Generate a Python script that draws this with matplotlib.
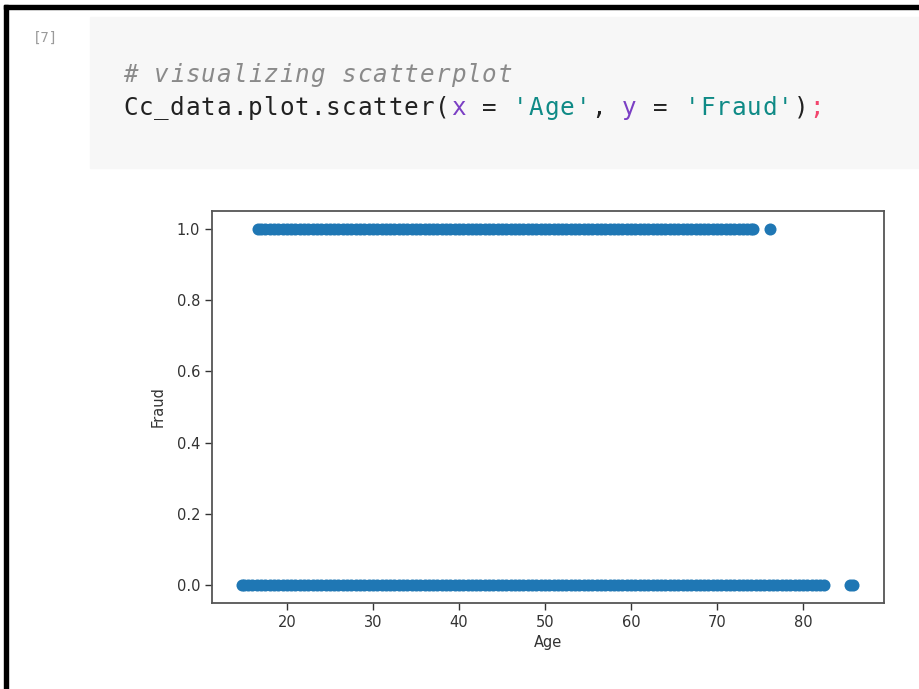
import matplotlib.pyplot as plt
from matplotlib.patches import Rectangle

# ages, one list per Fraud value
ages_fraud0 = [14.8, 15, 15.5, 16, 16.5, 17, 17.5, 18, 18.5, 19, 19.5, 20, 20.5,
               21, 21.5, 22, 22.5, 23, 23.5, 24, 24.5, 25, 25.5, 26, 26.5, 27,
               27.5, 28, 28.5, 29, 29.5, 30, 30.5, 31, 31.5, 32, 32.5, 33, 33.5,
               34, 34.5, 35, 35.5, 36, 36.5, 37, 37.5, 38, 38.5, 39, 39.5, 40,
               40.5, 41, 41.5, 42, 42.5, 43, 43.5, 44, 44.5, 45, 45.5, 46, 46.5,
               47, 47.5, 48, 48.5, 49, 49.5, 50, 50.5, 51, 51.5, 52, 52.5, 53,
               53.5, 54, 54.5, 55, 55.5, 56, 56.5, 57, 57.5, 58, 58.5, 59, 59.5,
               60, 60.5, 61, 61.5, 62, 62.5, 63, 63.5, 64, 64.5, 65, 65.5, 66,
               66.5, 67, 67.5, 68, 68.5, 69, 69.5, 70, 70.5, 71, 71.5, 72, 72.5,
               73, 73.5, 74, 74.5, 75, 75.5, 76, 76.5, 77, 77.5, 78, 78.5, 79,
               79.5, 80, 80.5, 81, 81.5, 82, 82.4, 85.5, 85.8]
ages_fraud1 = [16.7, 17, 17.5, 18, 18.5, 19, 19.5, 20, 20.5, 21, 21.5, 22, 22.5,
               23, 23.5, 24, 24.5, 25, 25.5, 26, 26.5, 27, 27.5, 28, 28.5, 29,
               29.5, 30, 30.5, 31, 31.5, 32, 32.5, 33, 33.5, 34, 34.5, 35, 35.5,
               36, 36.5, 37, 37.5, 38, 38.5, 39, 39.5, 40, 40.5, 41, 41.5, 42,
               42.5, 43, 43.5, 44, 44.5, 45, 45.5, 46, 46.5, 47, 47.5, 48, 48.5,
               49, 49.5, 50, 50.5, 51, 51.5, 52, 52.5, 53, 53.5, 54, 54.5, 55,
               55.5, 56, 56.5, 57, 57.5, 58, 58.5, 59, 59.5, 60, 60.5, 61, 61.5,
               62, 62.5, 63, 63.5, 64, 64.5, 65, 65.5, 66, 66.5, 67, 67.5, 68,
               68.5, 69, 69.5, 70, 70.5, 71, 71.5, 72, 72.5, 73, 73.5, 74, 74.2,
               76.2]
x_ticks = [20, 30, 40, 50, 60, 70, 80]
y_ticks = [0.0, 0.2, 0.4, 0.6, 0.8, 1.0]

W, H = 919, 689


def fx(px):
    return px / W


def fy(py):
    return 1 - py / H


fig = plt.figure(figsize=(W / 100, H / 100), dpi=100)
fig.patch.set_facecolor("white")

# notebook frame: thick black top and left edges
fig.patches.append(Rectangle((fx(4), fy(9)), 1, 4 / H, transform=fig.transFigure,
                             color="black", zorder=0))
fig.patches.append(Rectangle((fx(4), 0), 4 / W, fy(5), transform=fig.transFigure,
                             color="black", zorder=0))

# code cell
fig.patches.append(Rectangle((fx(90), fy(168)), 1, 151 / H, transform=fig.transFigure,
                             color="#f7f7f7", zorder=0))
fig.text(fx(33), fy(38), "[7]", fontsize=10, color="#9a9a9a",
         family="DejaVu Sans Mono", va="center")

cw = 15.6
x0 = 123


def code_line(pieces, y, **kw):
    # one glyph per column, so the spacing matches the notebook font
    col = 0
    for s, c in pieces:
        for ch in s:
            if ch != " ":
                fig.text(fx(x0 + col * cw), fy(y), ch, fontsize=17.5, color=c,
                         family="DejaVu Sans Mono", va="center", **kw)
            col += 1


code_line([("# visualizing scatterplot", "#8a8a8a")], 75, style="italic")
code_line([("Cc_data.plot.scatter(", "#212121"), ("x", "#7b3fc4"), (" = ", "#212121"),
           ("'Age'", "#0f8a86"), (", ", "#212121"), ("y", "#7b3fc4"),
           (" = ", "#212121"), ("'Fraud'", "#0f8a86"), (")", "#212121"),
           (";", "#f2456d")], 108)

# the scatter plot
ax = fig.add_axes([fx(212), fy(603), 672 / W, 392 / H])
ax.scatter(ages_fraud0, [0] * len(ages_fraud0), s=75, color="#1f77b4", linewidths=0)
ax.scatter(ages_fraud1, [1] * len(ages_fraud1), s=75, color="#1f77b4", linewidths=0)
ax.set_xlim(11.3, 89.4)
ax.set_ylim(-0.05, 1.05)
ax.set_xticks(x_ticks)
ax.set_yticks(y_ticks)
ax.set_yticklabels(["%.1f" % v for v in y_ticks])
ax.tick_params(labelsize=10.5, colors="#333333", length=5, width=1)
for sp in ax.spines.values():
    sp.set_color("#555555")
    sp.set_linewidth(1.3)
ax.set_xlabel("Age", fontsize=10.5, color="#333333", labelpad=4)
ax.set_ylabel("Fraud", fontsize=10.5, color="#333333", labelpad=8)

fig.savefig("out.png", dpi=100)
